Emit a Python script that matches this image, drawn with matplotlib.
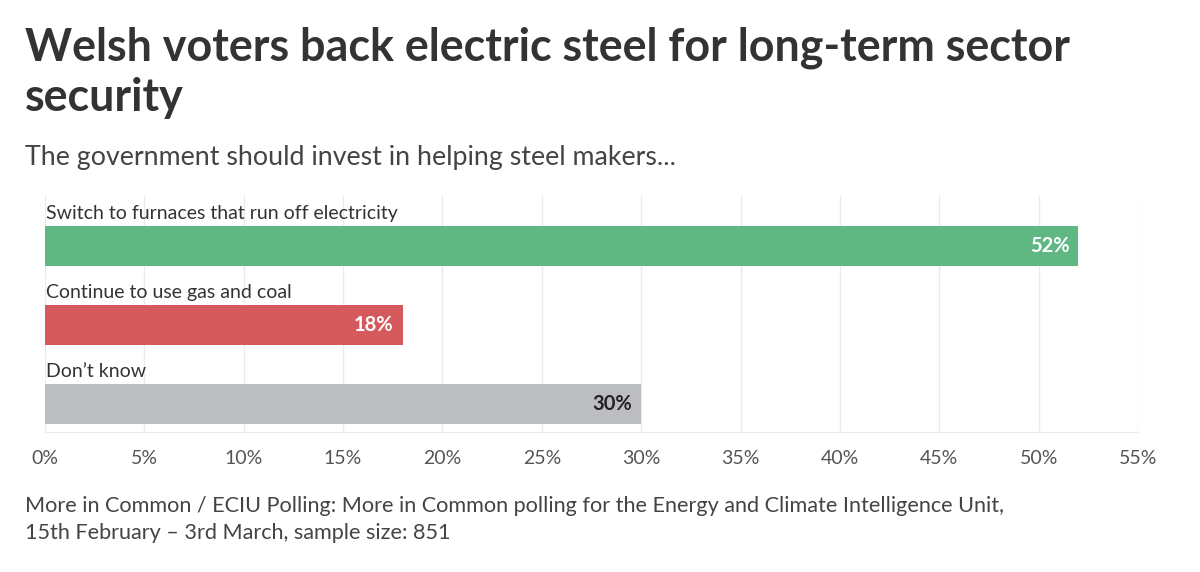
import matplotlib.pyplot as plt
from matplotlib.ticker import FuncFormatter

plt.rcParams['font.family'] = ['Lato', 'DejaVu Sans']

# data
answers = ['Switch to furnaces that run off electricity',
           'Continue to use gas and coal',
           "Don\u2019t know"]
shares = [52, 18, 30]
colours = ['#5fb784', '#d45a5d', '#bcbdc1']
label_colours = ['white', 'white', '#222222']
xticks = list(range(0, 56, 5))

fig = plt.figure(figsize=(12, 5.72), dpi=100)
ax = fig.add_axes([45 / 1200, 1 - 432 / 572, (1138 - 45) / 1200, (432 - 195) / 572])

ypos = [0, 1, 2]
ax.barh(ypos, shares, height=0.506, color=colours, zorder=2)
ax.set_ylim(2.354, -0.646)
ax.set_xlim(0, 55)

for y, name, val, c in zip(ypos, answers, shares, label_colours):
    ax.text(0.05, y - 0.41, name, ha='left', va='center', fontsize=14, color='#333333')
    ax.text(val - 0.45, y, f'{val}%', ha='right', va='center', fontsize=14.5,
            fontweight='bold', color=c, zorder=3)

ax.set_xticks(xticks)
ax.xaxis.set_major_formatter(FuncFormatter(lambda v, p: f'{v:.0f}%'))
ax.tick_params(axis='x', length=0, labelsize=14, labelcolor='#555555', pad=13)
ax.set_yticks([])
ax.grid(axis='x', color='#ebebeb', linewidth=1, zorder=0)
for s in ['top', 'right', 'left']:
    ax.spines[s].set_visible(False)
ax.spines['bottom'].set_color('#ebebeb')

fig.text(25 / 1200, 1 - 48 / 572, 'Welsh voters back electric steel for long-term sector',
         fontsize=32.3, fontweight='bold', color='#333333', va='center')
fig.text(25 / 1200, 1 - 98 / 572, 'security',
         fontsize=32.3, fontweight='bold', color='#333333', va='center')
fig.text(25 / 1200, 1 - 157 / 572, 'The government should invest in helping steel makers...',
         fontsize=19.3, color='#444444', va='center')
fig.text(25 / 1200, 1 - 506 / 572,
         'More in Common / ECIU Polling: More in Common polling for the Energy and Climate Intelligence Unit,',
         fontsize=15.6, color='#444444', va='center')
fig.text(25 / 1200, 1 - 533 / 572, '15th February \u2013 3rd March, sample size: 851',
         fontsize=15.6, color='#444444', va='center')

fig.savefig('out.png', dpi=100)
